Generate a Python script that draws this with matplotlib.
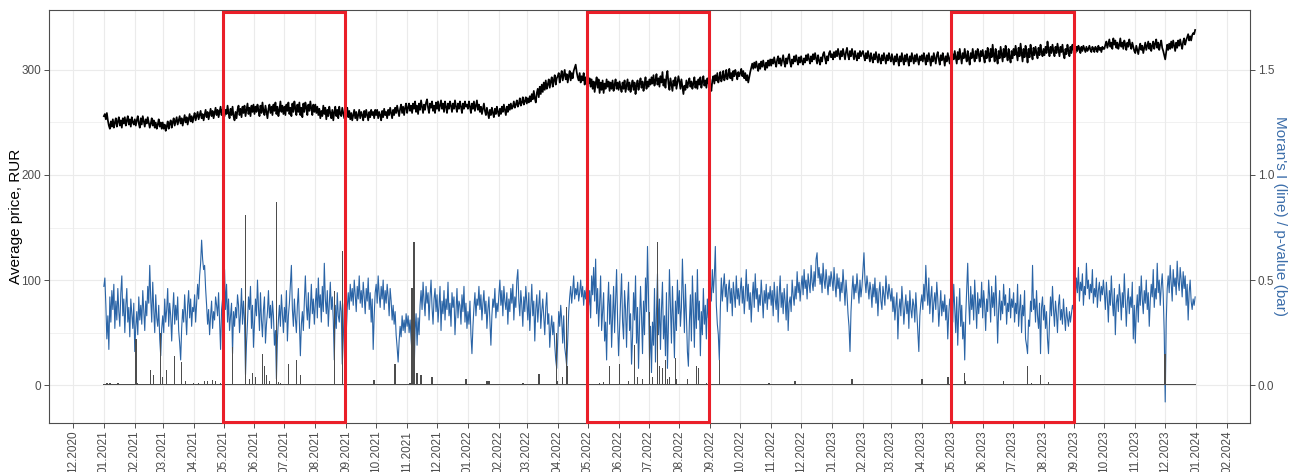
import numpy as np
import pandas as pd
import matplotlib
matplotlib.use("Agg")
import matplotlib.pyplot as plt
import matplotlib.dates as mdates
import matplotlib.transforms as mtransforms
from matplotlib.patches import Rectangle

plt.rcParams['font.family'] = ['Liberation Sans', 'DejaVu Sans']

# daily average price, RUR (one row per month)
price_2021 = [
    256, 258, 253, 259, 252, 247, 244, 251, 246, 253, 245, 250, 254, 246, 251, 255, 247, 252, 245, 254, 249, 255, 247, 252, 256, 248, 253, 246, 255, 250, 248,
    253, 247, 252, 256, 249, 245, 254, 248, 256, 251, 246, 253, 249, 255, 250, 245, 249, 254, 247, 252, 245, 250, 244, 248, 253, 246, 250, 244,
    250, 244, 248, 242, 246, 251, 244, 249, 252, 245, 250, 254, 247, 251, 255, 248, 252, 256, 249, 254, 247, 252, 257, 250, 255, 248, 253, 258, 251, 256, 250,
    255, 259, 252, 256, 260, 253, 257, 261, 254, 258, 252, 257, 262, 255, 260, 253, 258, 263, 256, 261, 254, 259, 264, 257, 262, 255, 260, 265, 257, 262,
    264, 256, 262, 258, 266, 259, 254, 263, 257, 265, 256, 252, 260, 254, 262, 266, 257, 263, 255, 265, 259, 266, 256, 262, 268, 258, 264, 256, 266, 260, 267,
    258, 265, 260, 267, 262, 256, 266, 259, 269, 261, 257, 266, 260, 254, 263, 267, 259, 265, 257, 267, 261, 269, 258, 265, 256, 262, 270, 260, 266, 258,
    265, 257, 267, 261, 269, 258, 264, 256, 268, 260, 270, 263, 257, 267, 260, 269, 257, 264, 255, 268, 260, 269, 264, 257, 267, 261, 270, 263, 257, 267, 260,
    267, 259, 265, 257, 263, 254, 261, 256, 266, 258, 264, 253, 262, 256, 265, 259, 254, 262, 252, 260, 265, 256, 262, 254, 265, 258, 256, 264, 259, 254, 262,
    260, 264, 255, 261, 253, 259, 252, 257, 262, 254, 260, 252, 257, 262, 254, 260, 257, 252, 261, 255, 262, 257, 252, 260, 255, 262, 257, 260, 254, 262,
    257, 262, 254, 260, 257, 252, 261, 255, 263, 257, 260, 254, 262, 257, 264, 259, 254, 262, 257, 264, 259, 266, 261, 256, 263, 267, 259, 265, 257, 264, 268,
    259, 264, 268, 261, 266, 259, 268, 263, 270, 260, 266, 258, 268, 262, 271, 265, 259, 267, 262, 269, 272, 264, 259, 268, 264, 270, 261, 266, 259, 269,
    263, 270, 261, 266, 271, 263, 268, 260, 270, 265, 259, 268, 263, 270, 266, 260, 268, 263, 271, 265, 260, 268, 263, 270, 265, 259, 268, 263, 270, 265, 267,
]
price_2022 = [
    263, 270, 265, 259, 268, 263, 270, 261, 266, 271, 262, 267, 260, 265, 258, 263, 268, 261, 257, 264, 259, 254, 262, 257, 264, 259, 255, 263, 258, 265, 260,
    256, 263, 258, 265, 260, 267, 262, 257, 265, 260, 267, 262, 268, 263, 265, 270, 264, 267, 271, 265, 268, 273, 266, 269, 274, 267, 270, 274,
    268, 273, 269, 275, 270, 277, 272, 280, 273, 269, 278, 282, 274, 284, 277, 286, 279, 288, 281, 290, 282, 286, 291, 283, 289, 293, 284, 290, 295, 286, 292,
    294, 297, 288, 294, 299, 290, 295, 300, 291, 296, 288, 294, 299, 290, 297, 292, 299, 302, 305, 298, 293, 290, 297, 288, 294, 290, 297, 286, 293, 289,
    294, 287, 292, 284, 291, 282, 289, 279, 287, 293, 283, 291, 278, 288, 281, 290, 278, 287, 282, 291, 284, 289, 280, 288, 282, 290, 280, 286, 291, 282, 288,
    281, 289, 283, 279, 288, 282, 290, 279, 285, 291, 281, 288, 279, 285, 290, 281, 288, 277, 285, 290, 281, 287, 292, 283, 289, 280, 286, 293, 282, 289,
    284, 291, 286, 293, 287, 295, 285, 290, 296, 286, 292, 284, 294, 288, 298, 285, 291, 283, 294, 299, 287, 281, 292, 286, 280, 290, 285, 293, 282, 288, 294,
    289, 282, 291, 284, 277, 285, 281, 290, 283, 288, 292, 284, 289, 282, 287, 293, 283, 289, 282, 291, 286, 293, 283, 289, 294, 285, 290, 283, 292, 287, 293,
    286, 280, 290, 294, 287, 295, 290, 297, 288, 292, 298, 289, 293, 299, 290, 294, 300, 291, 295, 301, 292, 297, 290, 299, 294, 300, 296, 291, 298, 294,
    297, 301, 294, 299, 292, 297, 290, 295, 288, 293, 298, 302, 306, 301, 307, 302, 308, 303, 299, 306, 301, 308, 303, 309, 304, 300, 307, 302, 309, 304, 310,
    304, 310, 306, 312, 307, 303, 310, 313, 306, 311, 304, 309, 314, 307, 303, 311, 306, 312, 315, 307, 303, 310, 306, 313, 308, 314, 309, 305, 312, 307,
    313, 308, 305, 311, 307, 314, 309, 315, 310, 306, 313, 308, 315, 310, 316, 311, 306, 314, 309, 305, 312, 308, 315, 317, 311, 306, 313, 309, 316, 318, 312,
]
price_2023 = [
    315, 310, 317, 312, 318, 313, 320, 315, 310, 318, 313, 320, 315, 310, 317, 321, 314, 310, 318, 313, 320, 315, 310, 318, 313, 309, 316, 311, 318, 313, 316,
    318, 313, 309, 316, 311, 318, 313, 308, 316, 311, 307, 315, 310, 317, 312, 307, 315, 310, 306, 314, 309, 316, 311, 306, 314, 309, 316, 311,
    308, 315, 310, 305, 313, 308, 315, 310, 304, 313, 308, 316, 310, 305, 314, 308, 315, 310, 304, 313, 308, 316, 311, 306, 314, 308, 315, 310, 305, 313, 309,
    314, 308, 316, 311, 305, 314, 308, 316, 310, 304, 313, 308, 316, 311, 306, 314, 317, 310, 305, 314, 309, 316, 311, 304, 313, 308, 316, 311, 306, 314,
    307, 315, 310, 318, 312, 306, 317, 310, 320, 313, 306, 316, 311, 320, 313, 308, 318, 311, 305, 316, 311, 320, 313, 308, 318, 311, 320, 315, 308, 318, 313,
    319, 312, 307, 318, 311, 321, 315, 308, 320, 312, 324, 315, 308, 320, 312, 306, 318, 311, 322, 315, 308, 320, 312, 323, 315, 309, 320, 312, 307, 318,
    311, 320, 314, 323, 316, 309, 321, 313, 325, 316, 308, 320, 312, 323, 316, 307, 320, 312, 324, 316, 310, 321, 314, 322, 316, 311, 321, 314, 324, 317, 313,
    320, 314, 322, 316, 327, 319, 313, 322, 316, 324, 318, 313, 322, 316, 325, 319, 313, 322, 317, 324, 315, 311, 320, 315, 324, 318, 313, 322, 316, 324, 319,
    320, 316, 322, 318, 323, 320, 316, 322, 318, 323, 320, 317, 322, 318, 320, 323, 319, 317, 322, 320, 317, 322, 320, 317, 323, 319, 321, 317, 322, 320,
    320, 324, 327, 321, 325, 329, 322, 326, 320, 330, 324, 328, 321, 326, 320, 324, 330, 322, 326, 320, 328, 324, 319, 326, 322, 329, 324, 320, 326, 322, 318,
    316, 323, 319, 315, 321, 325, 319, 323, 316, 321, 326, 319, 323, 327, 320, 325, 318, 323, 327, 320, 325, 329, 321, 326, 319, 324, 328, 321, 318, 314,
    310, 317, 324, 319, 325, 320, 327, 321, 328, 323, 318, 326, 321, 328, 323, 329, 324, 320, 327, 330, 324, 328, 331, 334, 328, 332, 328, 333, 335, 334, 338,
]

# daily Moran's I
moran_2021 = [
    0.47, 0.51, 0.38, 0.22, 0.33, 0.17, 0.42, 0.30, 0.45, 0.36, 0.48, 0.27, 0.40, 0.31, 0.46, 0.35, 0.28, 0.44, 0.52, 0.33, 0.41, 0.25, 0.38, 0.46, 0.30, 0.37, 0.23, 0.41, 0.34, 0.27, 0.39,
    0.16, 0.28, 0.35, 0.24, 0.42, 0.31, 0.38, 0.29, 0.45, 0.36, 0.26, 0.40, 0.33, 0.47, 0.39, 0.57, 0.41, 0.30, 0.49, 0.36, 0.25, 0.43, 0.32, 0.28, 0.38, 0.22, 0.14, 0.27,
    0.33, 0.25, 0.41, 0.30, 0.36, 0.46, 0.28, 0.39, 0.33, 0.21, 0.35, 0.44, 0.29, 0.38, 0.31, 0.42, 0.26, 0.20, 0.12, 0.27, 0.36, 0.30, 0.43, 0.34, 0.24, 0.38, 0.45, 0.32, 0.41, 0.28, 0.37,
    0.35, 0.43, 0.30, 0.39, 0.48, 0.41, 0.52, 0.58, 0.69, 0.60, 0.55, 0.57, 0.46, 0.38, 0.29, 0.36, 0.24, 0.33, 0.40, 0.27, 0.35, 0.31, 0.42, 0.38, 0.33, 0.44, 0.30, 0.17, 0.36, 0.41,
    0.44, 0.55, 0.36, 0.48, 0.30, 0.41, 0.26, 0.33, 0.39, 0.15, 0.35, 0.28, 0.37, 0.32, 0.43, 0.38, 0.25, 0.34, 0.46, 0.29, 0.40, 0.31, 0.05, 0.20, 0.30, 0.42, 0.36, 0.47, 0.27, 0.38, 0.18,
    0.29, 0.41, 0.33, 0.50, 0.37, 0.26, 0.44, 0.31, 0.23, 0.36, 0.42, 0.20, 0.29, 0.35, 0.45, 0.32, 0.38, 0.27, 0.40, 0.33, 0.19, 0.26, 0.03, 0.22, 0.31, 0.38, 0.28, 0.43, 0.34, 0.25,
    0.37, 0.30, 0.45, 0.21, 0.33, 0.39, 0.48, 0.57, 0.36, 0.28, 0.41, 0.32, 0.25, 0.38, 0.46, 0.30, 0.14, 0.29, 0.35, 0.26, 0.40, 0.52, 0.38, 0.31, 0.44, 0.27, 0.36, 0.48, 0.34, 0.41, 0.29,
    0.39, 0.46, 0.32, 0.51, 0.37, 0.43, 0.30, 0.47, 0.35, 0.58, 0.41, 0.34, 0.45, 0.28, 0.39, 0.49, 0.36, 0.42, 0.31, 0.12, 0.38, 0.27, 0.44, 0.33, 0.30, 0.40, 0.35, 0.10, 0.22, 0.38, 0.43,
    0.25, 0.37, 0.44, 0.36, 0.48, 0.40, 0.46, 0.38, 0.50, 0.43, 0.35, 0.47, 0.41, 0.52, 0.39, 0.45, 0.37, 0.49, 0.42, 0.34, 0.46, 0.40, 0.51, 0.36, 0.44, 0.30, 0.41, 0.17, 0.33, 0.44,
    0.48, 0.39, 0.52, 0.43, 0.37, 0.47, 0.41, 0.50, 0.36, 0.45, 0.39, 0.48, 0.42, 0.33, 0.46, 0.40, 0.31, 0.38, 0.29, 0.35, 0.24, 0.18, 0.11, 0.21, 0.28, 0.23, 0.33, 0.26, 0.31, 0.25, 0.34,
    0.28, 0.33, 0.25, 0.31, 0.22, 0.15, 0.29, 0.05, 0.26, 0.34, 0.19, 0.32, 0.24, 0.38, 0.45, 0.36, 0.49, 0.40, 0.33, 0.47, 0.39, 0.44, 0.31, 0.42, 0.50, 0.37, 0.29, 0.41, 0.46, 0.35,
    0.43, 0.30, 0.38, 0.47, 0.26, 0.40, 0.34, 0.45, 0.31, 0.41, 0.36, 0.49, 0.33, 0.39, 0.28, 0.44, 0.37, 0.42, 0.24, 0.35, 0.46, 0.32, 0.40, 0.38, 0.29, 0.43, 0.35, 0.47, 0.30, 0.39, 0.27,
]
moran_2022 = [
    0.35, 0.29, 0.40, 0.24, 0.15, 0.28, 0.37, 0.44, 0.33, 0.41, 0.38, 0.47, 0.36, 0.43, 0.31, 0.39, 0.45, 0.34, 0.40, 0.27, 0.36, 0.42, 0.30, 0.19, 0.33, 0.41, 0.37, 0.46, 0.32, 0.39, 0.35,
    0.43, 0.50, 0.38, 0.45, 0.33, 0.47, 0.40, 0.36, 0.44, 0.29, 0.41, 0.35, 0.46, 0.39, 0.48, 0.31, 0.42, 0.37, 0.50, 0.55, 0.40, 0.33, 0.45, 0.38, 0.28, 0.42, 0.35, 0.47,
    0.39, 0.31, 0.44, 0.26, 0.37, 0.48, 0.33, 0.40, 0.21, 0.36, 0.43, 0.30, 0.38, 0.45, 0.27, 0.35, 0.41, 0.32, 0.24, 0.37, 0.44, 0.29, 0.34, 0.18, 0.27, 0.33, 0.24, 0.30, 0.19, 0.12, 0.08,
    0.22, 0.35, 0.28, 0.38, 0.31, 0.20, 0.33, 0.18, 0.14, 0.09, 0.21, 0.35, 0.42, 0.47, 0.39, 0.45, 0.52, 0.41, 0.46, 0.43, 0.49, 0.40, 0.44, 0.50, 0.42, 0.47, 0.38, 0.45, 0.41, 0.48,
    0.47, 0.38, 0.45, 0.32, 0.52, 0.43, 0.56, 0.40, 0.60, 0.34, 0.46, 0.28, 0.39, 0.52, 0.26, 0.35, 0.44, 0.21, 0.30, 0.12, 0.37, 0.49, 0.29, 0.43, 0.18, 0.33, 0.47, 0.25, 0.40, 0.55, 0.31,
    0.14, 0.27, 0.41, 0.53, 0.30, 0.22, 0.45, 0.36, 0.18, 0.39, 0.49, 0.26, 0.34, 0.10, 0.23, 0.44, 0.31, 0.52, 0.20, 0.37, 0.08, 0.29, 0.47, 0.33, 0.15, 0.40, 0.24, 0.51, 0.35, 0.66,
    0.42, 0.12, 0.28, 0.06, 0.30, 0.19, 0.46, 0.11, 0.35, 0.53, 0.24, 0.41, 0.17, 0.36, 0.49, 0.22, 0.33, 0.14, 0.44, 0.08, 0.29, 0.55, 0.38, 0.20, 0.47, 0.31, 0.13, 0.40, 0.26, 0.50, 0.34,
    0.45, 0.28, 0.37, 0.60, 0.42, 0.25, 0.48, 0.33, 0.16, 0.09, 0.30, 0.43, 0.21, 0.52, 0.36, 0.18, 0.44, 0.27, 0.55, 0.31, 0.40, 0.14, 0.35, 0.24, 0.46, 0.29, 0.38, 0.22, 0.41, 0.32, 0.36,
    0.48, 0.40, 0.55, 0.44, 0.52, 0.66, 0.38, 0.29, 0.24, 0.12, 0.36, 0.51, 0.40, 0.47, 0.53, 0.42, 0.48, 0.35, 0.45, 0.50, 0.39, 0.46, 0.33, 0.49, 0.43, 0.37, 0.52, 0.41, 0.46, 0.38,
    0.45, 0.51, 0.39, 0.47, 0.34, 0.43, 0.55, 0.40, 0.48, 0.36, 0.44, 0.30, 0.42, 0.49, 0.37, 0.53, 0.41, 0.46, 0.35, 0.43, 0.38, 0.50, 0.42, 0.32, 0.45, 0.39, 0.48, 0.36, 0.44, 0.41, 0.47,
    0.38, 0.45, 0.33, 0.49, 0.41, 0.36, 0.47, 0.30, 0.43, 0.52, 0.37, 0.44, 0.34, 0.46, 0.40, 0.31, 0.48, 0.26, 0.39, 0.42, 0.35, 0.50, 0.43, 0.38, 0.47, 0.41, 0.54, 0.44, 0.49, 0.40,
    0.47, 0.52, 0.43, 0.55, 0.46, 0.50, 0.41, 0.53, 0.48, 0.44, 0.57, 0.49, 0.45, 0.54, 0.47, 0.60, 0.63, 0.51, 0.56, 0.48, 0.53, 0.44, 0.58, 0.50, 0.46, 0.55, 0.49, 0.43, 0.52, 0.47, 0.54,
]
moran_2023 = [
    0.50, 0.45, 0.56, 0.48, 0.42, 0.53, 0.46, 0.51, 0.40, 0.49, 0.44, 0.55, 0.47, 0.38, 0.50, 0.43, 0.34, 0.28, 0.16, 0.35, 0.45, 0.52, 0.41, 0.48, 0.44, 0.53, 0.46, 0.39, 0.50, 0.42, 0.47,
    0.55, 0.63, 0.50, 0.44, 0.52, 0.47, 0.41, 0.49, 0.45, 0.37, 0.48, 0.42, 0.51, 0.39, 0.46, 0.33, 0.44, 0.49, 0.40, 0.36, 0.47, 0.43, 0.38, 0.52, 0.45, 0.41, 0.48, 0.44,
    0.40, 0.46, 0.35, 0.42, 0.31, 0.38, 0.44, 0.22, 0.36, 0.41, 0.33, 0.47, 0.39, 0.29, 0.37, 0.43, 0.34, 0.40, 0.27, 0.45, 0.36, 0.32, 0.41, 0.38, 0.30, 0.44, 0.35, 0.26, 0.16, 0.33, 0.39,
    0.43, 0.36, 0.48, 0.40, 0.57, 0.45, 0.38, 0.51, 0.34, 0.42, 0.47, 0.30, 0.39, 0.44, 0.36, 0.49, 0.41, 0.28, 0.37, 0.45, 0.33, 0.40, 0.35, 0.43, 0.31, 0.38, 0.22, 0.34, 0.41, 0.37,
    0.44, 0.30, 0.48, 0.36, 0.25, 0.42, 0.19, 0.35, 0.46, 0.28, 0.38, 0.22, 0.30, 0.12, 0.33, 0.45, 0.58, 0.40, 0.29, 0.47, 0.36, 0.43, 0.31, 0.50, 0.39, 0.27, 0.44, 0.34, 0.41, 0.37, 0.49,
    0.32, 0.45, 0.38, 0.26, 0.41, 0.35, 0.50, 0.42, 0.30, 0.47, 0.37, 0.44, 0.33, 0.52, 0.39, 0.20, 0.36, 0.45, 0.31, 0.40, 0.34, 0.48, 0.38, 0.43, 0.29, 0.39, 0.35, 0.46, 0.32, 0.41,
    0.37, 0.44, 0.30, 0.39, 0.34, 0.48, 0.28, 0.36, 0.43, 0.25, 0.38, 0.33, 0.45, 0.22, 0.19, 0.15, 0.31, 0.28, 0.40, 0.35, 0.57, 0.36, 0.41, 0.30, 0.45, 0.33, 0.27, 0.39, 0.15, 0.37, 0.42,
    0.31, 0.38, 0.27, 0.35, 0.22, 0.15, 0.30, 0.42, 0.33, 0.47, 0.36, 0.28, 0.40, 0.34, 0.25, 0.38, 0.43, 0.31, 0.36, 0.29, 0.41, 0.33, 0.26, 0.37, 0.32, 0.28, 0.35, 0.30, 0.34, 0.38, 0.36,
    0.47, 0.42, 0.51, 0.44, 0.56, 0.40, 0.49, 0.45, 0.53, 0.38, 0.47, 0.43, 0.58, 0.46, 0.50, 0.41, 0.48, 0.44, 0.55, 0.39, 0.46, 0.42, 0.51, 0.37, 0.45, 0.49, 0.40, 0.47, 0.43, 0.50,
    0.44, 0.36, 0.49, 0.41, 0.30, 0.45, 0.38, 0.52, 0.40, 0.33, 0.46, 0.24, 0.39, 0.43, 0.35, 0.48, 0.42, 0.31, 0.44, 0.37, 0.53, 0.41, 0.28, 0.40, 0.46, 0.34, 0.42, 0.37, 0.49, 0.22, 0.38,
    0.20, 0.35, 0.43, 0.30, 0.47, 0.38, 0.52, 0.41, 0.34, 0.45, 0.39, 0.50, 0.36, 0.44, 0.28, 0.40, 0.48, 0.42, 0.55, 0.37, 0.46, 0.41, 0.58, 0.44, 0.50, 0.38, 0.47, 0.53, 0.43, 0.25,
    -0.08, 0.30, 0.46, 0.52, 0.44, 0.57, 0.48, 0.40, 0.55, 0.47, 0.51, 0.43, 0.59, 0.49, 0.45, 0.56, 0.50, 0.42, 0.54, 0.46, 0.52, 0.38, 0.48, 0.31, 0.44, 0.50, 0.40, 0.36, 0.41, 0.38, 0.42,
]

# p-values that stand clearly above zero; every other day is ~0
pval_dates = [
    '2021-01-04', '2021-01-07', '2021-01-11', '2021-01-15',
    '2021-02-02', '2021-02-03', '2021-02-17', '2021-02-20', '2021-02-27', '2021-03-01', '2021-03-05', '2021-03-13', '2021-03-20', '2021-03-24',
    '2021-04-01', '2021-04-06', '2021-04-12', '2021-04-15', '2021-04-20', '2021-04-23', '2021-04-28',
    '2021-05-10', '2021-05-23', '2021-05-27', '2021-05-30', '2021-06-02', '2021-06-09', '2021-06-11', '2021-06-13', '2021-06-16',
    '2021-06-23', '2021-06-25', '2021-06-27', '2021-07-05', '2021-07-13', '2021-07-17', '2021-08-20', '2021-08-28',
    '2021-09-29', '2021-10-20', '2021-11-04', '2021-11-06', '2021-11-08', '2021-11-11', '2021-11-15', '2021-11-26', '2021-12-30',
    '2022-01-20', '2022-01-22', '2022-02-25', '2022-03-13', '2022-03-31', '2022-04-01', '2022-04-06', '2022-04-10', '2022-04-11',
    '2022-05-13', '2022-05-17', '2022-05-23', '2022-06-02', '2022-06-11', '2022-06-17', '2022-06-20', '2022-06-25',
    '2022-07-02', '2022-07-05', '2022-07-10', '2022-07-12', '2022-07-15', '2022-07-18', '2022-07-20', '2022-07-22', '2022-07-28', '2022-07-29',
    '2022-08-09', '2022-08-18', '2022-08-20', '2022-08-28', '2022-09-10', '2022-10-05', '2022-10-30', '2022-11-25', '2022-12-20',
    '2023-01-21', '2023-03-07', '2023-04-01', '2023-04-27', '2023-05-06', '2023-05-11', '2023-05-14', '2023-05-15',
    '2023-06-22', '2023-07-16', '2023-07-20', '2023-07-29', '2023-08-06', '2023-08-17', '2023-10-27', '2023-12-01',
]
pval_values = [
    0.012, 0.008, 0.006, 0.008,
    0.22, 0.01, 0.07, 0.05, 0.25, 0.04, 0.07, 0.14, 0.11, 0.02,
    0.01, 0.01, 0.02, 0.02, 0.025, 0.02, 0.01,
    0.18, 0.81, 0.03, 0.06, 0.04, 0.15, 0.09, 0.05, 0.02,
    0.87, 0.015, 0.01, 0.10, 0.12, 0.05, 0.45, 0.64,
    0.025, 0.10, 0.01, 0.46, 0.68, 0.06, 0.05, 0.04, 0.03,
    0.02, 0.02, 0.01, 0.055, 0.25, 0.02, 0.04, 0.37, 0.09,
    0.01, 0.015, 0.09, 0.10, 0.02, 0.19, 0.04, 0.03,
    0.35, 0.04, 0.68, 0.09, 0.08, 0.12, 0.03, 0.04, 0.13, 0.03,
    0.03, 0.09, 0.08, 0.01, 0.12, 0.005, 0.01, 0.02, 0.005,
    0.03, 0.005, 0.03, 0.04, 0.005, 0.005, 0.06, 0.02,
    0.02, 0.09, 0.01, 0.05, 0.015, 0.005, 0.005, 0.15,
]
pval_other = 0.004

# highlighted periods
box_start = ['2021-04-30', '2022-04-30', '2023-04-30']
box_end = ['2021-08-31', '2022-08-31', '2023-09-01']

# Moran's I / p-value axis is the price axis divided by this
scale = 200

price = price_2021 + price_2022 + price_2023
moran = np.array(moran_2021 + moran_2022 + moran_2023)
price_dates = pd.date_range('2021-01-01', periods=len(price), freq='D')
moran_dates = pd.date_range('2021-01-01', periods=len(moran), freq='D')
pval = pd.Series(pval_other, index=moran_dates)
pval.loc[pd.to_datetime(pval_dates)] = pval_values

fig = plt.figure(figsize=(12.9, 4.72), dpi=100)
ax = fig.add_axes([49 / 1290, 1 - 423 / 472, 1201 / 1290, 413 / 472])

ax.plot(moran_dates, moran * scale, color='#2a64a6', lw=0.8, zorder=2)
ax.bar(pval.index, pval.values * scale, width=1.5, color='#4d4d4d', lw=0, zorder=3)
ax.plot(price_dates, price, color='black', lw=1.25, zorder=4)

trans = mtransforms.blended_transform_factory(ax.transData, ax.transAxes)
for s, e in zip(box_start, box_end):
    x0 = mdates.date2num(pd.Timestamp(s))
    x1 = mdates.date2num(pd.Timestamp(e))
    ax.add_patch(Rectangle((x0, 0.003), x1 - x0, 0.992, transform=trans, fill=False,
                           edgecolor='#ea1f29', lw=2.2, zorder=5, clip_on=False))

ax.set_xlim(pd.Timestamp('2020-11-07'), pd.Timestamp('2024-02-24'))
ax.set_ylim(-36, 357)
ax.set_yticks([0, 100, 200, 300])
ax.set_yticks([50, 150, 250], minor=True)
ax.xaxis.set_major_locator(mdates.MonthLocator())
ax.xaxis.set_major_formatter(mdates.DateFormatter('%m.%Y'))
ax.tick_params(axis='both', which='major', labelsize=8.5, labelcolor='#4d4d4d',
               color='#333333', length=3.5, width=0.6, pad=2)
ax.tick_params(axis='y', which='minor', length=0)
plt.setp(ax.get_xticklabels(), rotation=90)
ax.grid(which='major', color='#ebebeb', lw=0.8)
ax.grid(which='minor', axis='y', color='#ebebeb', lw=0.5)
ax.set_axisbelow(True)
for sp in ax.spines.values():
    sp.set_color('#4d4d4d')
    sp.set_linewidth(0.8)

ax.set_ylabel('Average price, RUR', fontsize=11, color='black')
ax.yaxis.set_label_coords(-0.0216, 0.5)

ax2 = ax.twinx()
ax2.set_ylim(-36 / scale, 357 / scale)
ax2.set_yticks([0.0, 0.5, 1.0, 1.5])
ax2.set_yticklabels(['0.0', '0.5', '1.0', '1.5'])
ax2.tick_params(axis='y', labelsize=8.5, labelcolor='#4d4d4d', color='#333333',
                length=3.5, width=0.6, pad=2)
for sp in ax2.spines.values():
    sp.set_visible(False)
ax2.set_ylabel("Moran's I (line) / p-value (bar)", fontsize=11, color='#3c6eaa',
               rotation=270, va='bottom')
ax2.yaxis.set_label_coords(1.019, 0.5)

fig.savefig('out.png', dpi=100)
